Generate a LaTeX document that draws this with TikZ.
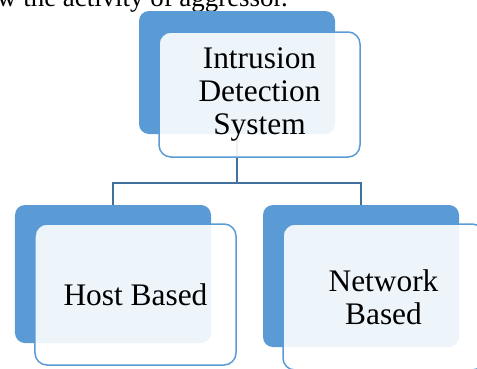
\documentclass[tikz,border=0pt]{standalone}
\usepackage{fontspec}
\setmainfont{Liberation Serif}
\usetikzlibrary{backgrounds}
\definecolor{bblue}{HTML}{5B9BD5}
\definecolor{cblue}{HTML}{41719C}
\begin{document}
\begin{tikzpicture}[x=1bp,y=-1bp,
  backbox/.style={fill=bblue, draw=none, rounded corners=10bp, inner sep=0pt},
  frontbox/.style={fill=white, fill opacity=0.9, text opacity=1, draw=bblue, line width=1.5bp,
     rounded corners=12bp, inner sep=0pt, align=center, font=\fontsize{31.5}{33}\selectfont},
  conn/.style={draw=cblue, line width=1.6bp}]
\useasboundingbox (0,0) rectangle (477,368);
\clip (0,0) rectangle (477,368);
\node[anchor=base west, inner sep=0pt, font=\fontsize{27}{30}\selectfont] (cap) at (-3,6) {w the activity of aggressor.};
% back boxes
\node[backbox, minimum width=196bp, minimum height=123bp] (tb) at (237,72.5) {};
\node[backbox, minimum width=196bp, minimum height=138bp] (lb) at (113,274) {};
\node[backbox, minimum width=196bp, minimum height=142bp] (rb) at (361,276) {};
% connectors
\begin{scope}[on background layer]
\draw[conn] (tb.south) -- (tb.south |- 0,183) coordinate (jn) -| (lb.north);
\draw[conn] (jn) -| (rb.north);
\end{scope}
% front boxes
\node[frontbox, minimum width=201bp, minimum height=125bp] (tf) at (259.5,94.5) {Intrusion\\Detection\\System};
\node[frontbox, minimum width=201bp, minimum height=141bp] (lf) at (135.5,294.5) {Host Based};
\node[frontbox, minimum width=201bp, minimum height=146bp] (rf) at (383.5,297) {Network\\Based};
\end{tikzpicture}
\end{document}
